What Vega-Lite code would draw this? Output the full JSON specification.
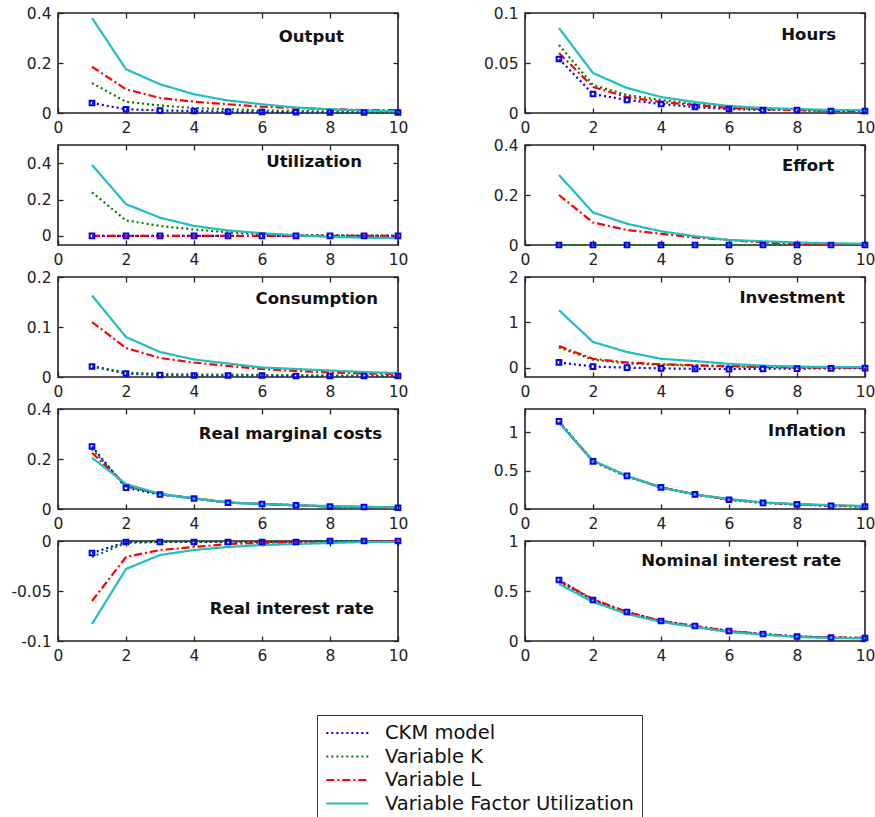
{
"$schema": "https://vega.github.io/schema/vega-lite/v6.json",
"padding": {"left": 10, "top": 5, "right": 5, "bottom": 0},
"background": "white",
"data": {"values": [
{"panel":"Output","model":"CKM model","t":1,"value":0.04},{"panel":"Output","model":"CKM model","t":2,"value":0.015},{"panel":"Output","model":"CKM model","t":3,"value":0.01},{"panel":"Output","model":"CKM model","t":4,"value":0.008},{"panel":"Output","model":"CKM model","t":5,"value":0.005},{"panel":"Output","model":"CKM model","t":6,"value":0.004},{"panel":"Output","model":"CKM model","t":7,"value":0.003},{"panel":"Output","model":"CKM model","t":8,"value":0.002},{"panel":"Output","model":"CKM model","t":9,"value":0.002},{"panel":"Output","model":"CKM model","t":10,"value":0.002},
{"panel":"Output","model":"Variable K","t":1,"value":0.12},{"panel":"Output","model":"Variable K","t":2,"value":0.045},{"panel":"Output","model":"Variable K","t":3,"value":0.03},{"panel":"Output","model":"Variable K","t":4,"value":0.02},{"panel":"Output","model":"Variable K","t":5,"value":0.015},{"panel":"Output","model":"Variable K","t":6,"value":0.01},{"panel":"Output","model":"Variable K","t":7,"value":0.008},{"panel":"Output","model":"Variable K","t":8,"value":0.006},{"panel":"Output","model":"Variable K","t":9,"value":0.005},{"panel":"Output","model":"Variable K","t":10,"value":0.004},
{"panel":"Output","model":"Variable L","t":1,"value":0.185},{"panel":"Output","model":"Variable L","t":2,"value":0.095},{"panel":"Output","model":"Variable L","t":3,"value":0.06},{"panel":"Output","model":"Variable L","t":4,"value":0.045},{"panel":"Output","model":"Variable L","t":5,"value":0.035},{"panel":"Output","model":"Variable L","t":6,"value":0.025},{"panel":"Output","model":"Variable L","t":7,"value":0.02},{"panel":"Output","model":"Variable L","t":8,"value":0.015},{"panel":"Output","model":"Variable L","t":9,"value":0.012},{"panel":"Output","model":"Variable L","t":10,"value":0.012},
{"panel":"Output","model":"Variable Factor Utilization","t":1,"value":0.38},{"panel":"Output","model":"Variable Factor Utilization","t":2,"value":0.175},{"panel":"Output","model":"Variable Factor Utilization","t":3,"value":0.115},{"panel":"Output","model":"Variable Factor Utilization","t":4,"value":0.075},{"panel":"Output","model":"Variable Factor Utilization","t":5,"value":0.05},{"panel":"Output","model":"Variable Factor Utilization","t":6,"value":0.035},{"panel":"Output","model":"Variable Factor Utilization","t":7,"value":0.022},{"panel":"Output","model":"Variable Factor Utilization","t":8,"value":0.015},{"panel":"Output","model":"Variable Factor Utilization","t":9,"value":0.01},{"panel":"Output","model":"Variable Factor Utilization","t":10,"value":0.007},

{"panel":"Hours","model":"CKM model","t":1,"value":0.054},{"panel":"Hours","model":"CKM model","t":2,"value":0.019},{"panel":"Hours","model":"CKM model","t":3,"value":0.013},{"panel":"Hours","model":"CKM model","t":4,"value":0.009},{"panel":"Hours","model":"CKM model","t":5,"value":0.006},{"panel":"Hours","model":"CKM model","t":6,"value":0.004},{"panel":"Hours","model":"CKM model","t":7,"value":0.003},{"panel":"Hours","model":"CKM model","t":8,"value":0.003},{"panel":"Hours","model":"CKM model","t":9,"value":0.002},{"panel":"Hours","model":"CKM model","t":10,"value":0.002},
{"panel":"Hours","model":"Variable K","t":1,"value":0.068},{"panel":"Hours","model":"Variable K","t":2,"value":0.028},{"panel":"Hours","model":"Variable K","t":3,"value":0.018},{"panel":"Hours","model":"Variable K","t":4,"value":0.013},{"panel":"Hours","model":"Variable K","t":5,"value":0.009},{"panel":"Hours","model":"Variable K","t":6,"value":0.006},{"panel":"Hours","model":"Variable K","t":7,"value":0.004},{"panel":"Hours","model":"Variable K","t":8,"value":0.003},{"panel":"Hours","model":"Variable K","t":9,"value":0.002},{"panel":"Hours","model":"Variable K","t":10,"value":0.002},
{"panel":"Hours","model":"Variable L","t":1,"value":0.06},{"panel":"Hours","model":"Variable L","t":2,"value":0.026},{"panel":"Hours","model":"Variable L","t":3,"value":0.016},{"panel":"Hours","model":"Variable L","t":4,"value":0.011},{"panel":"Hours","model":"Variable L","t":5,"value":0.008},{"panel":"Hours","model":"Variable L","t":6,"value":0.005},{"panel":"Hours","model":"Variable L","t":7,"value":0.004},{"panel":"Hours","model":"Variable L","t":8,"value":0.003},{"panel":"Hours","model":"Variable L","t":9,"value":0.002},{"panel":"Hours","model":"Variable L","t":10,"value":0.002},
{"panel":"Hours","model":"Variable Factor Utilization","t":1,"value":0.085},{"panel":"Hours","model":"Variable Factor Utilization","t":2,"value":0.04},{"panel":"Hours","model":"Variable Factor Utilization","t":3,"value":0.025},{"panel":"Hours","model":"Variable Factor Utilization","t":4,"value":0.016},{"panel":"Hours","model":"Variable Factor Utilization","t":5,"value":0.011},{"panel":"Hours","model":"Variable Factor Utilization","t":6,"value":0.007},{"panel":"Hours","model":"Variable Factor Utilization","t":7,"value":0.005},{"panel":"Hours","model":"Variable Factor Utilization","t":8,"value":0.004},{"panel":"Hours","model":"Variable Factor Utilization","t":9,"value":0.003},{"panel":"Hours","model":"Variable Factor Utilization","t":10,"value":0.003},

{"panel":"Utilization","model":"CKM model","t":1,"value":0},{"panel":"Utilization","model":"CKM model","t":2,"value":0},{"panel":"Utilization","model":"CKM model","t":3,"value":0},{"panel":"Utilization","model":"CKM model","t":4,"value":0},{"panel":"Utilization","model":"CKM model","t":5,"value":0},{"panel":"Utilization","model":"CKM model","t":6,"value":0},{"panel":"Utilization","model":"CKM model","t":7,"value":0},{"panel":"Utilization","model":"CKM model","t":8,"value":0},{"panel":"Utilization","model":"CKM model","t":9,"value":0},{"panel":"Utilization","model":"CKM model","t":10,"value":0},
{"panel":"Utilization","model":"Variable K","t":1,"value":0.24},{"panel":"Utilization","model":"Variable K","t":2,"value":0.085},{"panel":"Utilization","model":"Variable K","t":3,"value":0.055},{"panel":"Utilization","model":"Variable K","t":4,"value":0.035},{"panel":"Utilization","model":"Variable K","t":5,"value":0.02},{"panel":"Utilization","model":"Variable K","t":6,"value":0.01},{"panel":"Utilization","model":"Variable K","t":7,"value":0.005},{"panel":"Utilization","model":"Variable K","t":8,"value":0.003},{"panel":"Utilization","model":"Variable K","t":9,"value":0.002},{"panel":"Utilization","model":"Variable K","t":10,"value":0.001},
{"panel":"Utilization","model":"Variable L","t":1,"value":0},{"panel":"Utilization","model":"Variable L","t":2,"value":0},{"panel":"Utilization","model":"Variable L","t":3,"value":0},{"panel":"Utilization","model":"Variable L","t":4,"value":0},{"panel":"Utilization","model":"Variable L","t":5,"value":0},{"panel":"Utilization","model":"Variable L","t":6,"value":0},{"panel":"Utilization","model":"Variable L","t":7,"value":0},{"panel":"Utilization","model":"Variable L","t":8,"value":0},{"panel":"Utilization","model":"Variable L","t":9,"value":0},{"panel":"Utilization","model":"Variable L","t":10,"value":0},
{"panel":"Utilization","model":"Variable Factor Utilization","t":1,"value":0.39},{"panel":"Utilization","model":"Variable Factor Utilization","t":2,"value":0.175},{"panel":"Utilization","model":"Variable Factor Utilization","t":3,"value":0.1},{"panel":"Utilization","model":"Variable Factor Utilization","t":4,"value":0.055},{"panel":"Utilization","model":"Variable Factor Utilization","t":5,"value":0.03},{"panel":"Utilization","model":"Variable Factor Utilization","t":6,"value":0.015},{"panel":"Utilization","model":"Variable Factor Utilization","t":7,"value":0.003},{"panel":"Utilization","model":"Variable Factor Utilization","t":8,"value":-0.005},{"panel":"Utilization","model":"Variable Factor Utilization","t":9,"value":-0.01},{"panel":"Utilization","model":"Variable Factor Utilization","t":10,"value":-0.012},

{"panel":"Effort","model":"CKM model","t":1,"value":0},{"panel":"Effort","model":"CKM model","t":2,"value":0},{"panel":"Effort","model":"CKM model","t":3,"value":0},{"panel":"Effort","model":"CKM model","t":4,"value":0},{"panel":"Effort","model":"CKM model","t":5,"value":0},{"panel":"Effort","model":"CKM model","t":6,"value":0},{"panel":"Effort","model":"CKM model","t":7,"value":0},{"panel":"Effort","model":"CKM model","t":8,"value":0},{"panel":"Effort","model":"CKM model","t":9,"value":0},{"panel":"Effort","model":"CKM model","t":10,"value":0},
{"panel":"Effort","model":"Variable K","t":1,"value":0},{"panel":"Effort","model":"Variable K","t":2,"value":0},{"panel":"Effort","model":"Variable K","t":3,"value":0},{"panel":"Effort","model":"Variable K","t":4,"value":0},{"panel":"Effort","model":"Variable K","t":5,"value":0},{"panel":"Effort","model":"Variable K","t":6,"value":0},{"panel":"Effort","model":"Variable K","t":7,"value":0},{"panel":"Effort","model":"Variable K","t":8,"value":0},{"panel":"Effort","model":"Variable K","t":9,"value":0},{"panel":"Effort","model":"Variable K","t":10,"value":0},
{"panel":"Effort","model":"Variable L","t":1,"value":0.2},{"panel":"Effort","model":"Variable L","t":2,"value":0.09},{"panel":"Effort","model":"Variable L","t":3,"value":0.06},{"panel":"Effort","model":"Variable L","t":4,"value":0.045},{"panel":"Effort","model":"Variable L","t":5,"value":0.03},{"panel":"Effort","model":"Variable L","t":6,"value":0.02},{"panel":"Effort","model":"Variable L","t":7,"value":0.01},{"panel":"Effort","model":"Variable L","t":8,"value":0.005},{"panel":"Effort","model":"Variable L","t":9,"value":0.003},{"panel":"Effort","model":"Variable L","t":10,"value":0.002},
{"panel":"Effort","model":"Variable Factor Utilization","t":1,"value":0.28},{"panel":"Effort","model":"Variable Factor Utilization","t":2,"value":0.13},{"panel":"Effort","model":"Variable Factor Utilization","t":3,"value":0.085},{"panel":"Effort","model":"Variable Factor Utilization","t":4,"value":0.055},{"panel":"Effort","model":"Variable Factor Utilization","t":5,"value":0.035},{"panel":"Effort","model":"Variable Factor Utilization","t":6,"value":0.02},{"panel":"Effort","model":"Variable Factor Utilization","t":7,"value":0.015},{"panel":"Effort","model":"Variable Factor Utilization","t":8,"value":0.01},{"panel":"Effort","model":"Variable Factor Utilization","t":9,"value":0.007},{"panel":"Effort","model":"Variable Factor Utilization","t":10,"value":0.005},

{"panel":"Consumption","model":"CKM model","t":1,"value":0.021},{"panel":"Consumption","model":"CKM model","t":2,"value":0.007},{"panel":"Consumption","model":"CKM model","t":3,"value":0.004},{"panel":"Consumption","model":"CKM model","t":4,"value":0.003},{"panel":"Consumption","model":"CKM model","t":5,"value":0.003},{"panel":"Consumption","model":"CKM model","t":6,"value":0.003},{"panel":"Consumption","model":"CKM model","t":7,"value":0.002},{"panel":"Consumption","model":"CKM model","t":8,"value":0.002},{"panel":"Consumption","model":"CKM model","t":9,"value":0.002},{"panel":"Consumption","model":"CKM model","t":10,"value":0.002},
{"panel":"Consumption","model":"Variable K","t":1,"value":0.022},{"panel":"Consumption","model":"Variable K","t":2,"value":0.009},{"panel":"Consumption","model":"Variable K","t":3,"value":0.006},{"panel":"Consumption","model":"Variable K","t":4,"value":0.005},{"panel":"Consumption","model":"Variable K","t":5,"value":0.005},{"panel":"Consumption","model":"Variable K","t":6,"value":0.004},{"panel":"Consumption","model":"Variable K","t":7,"value":0.004},{"panel":"Consumption","model":"Variable K","t":8,"value":0.003},{"panel":"Consumption","model":"Variable K","t":9,"value":0.003},{"panel":"Consumption","model":"Variable K","t":10,"value":0.003},
{"panel":"Consumption","model":"Variable L","t":1,"value":0.11},{"panel":"Consumption","model":"Variable L","t":2,"value":0.058},{"panel":"Consumption","model":"Variable L","t":3,"value":0.038},{"panel":"Consumption","model":"Variable L","t":4,"value":0.029},{"panel":"Consumption","model":"Variable L","t":5,"value":0.022},{"panel":"Consumption","model":"Variable L","t":6,"value":0.016},{"panel":"Consumption","model":"Variable L","t":7,"value":0.012},{"panel":"Consumption","model":"Variable L","t":8,"value":0.009},{"panel":"Consumption","model":"Variable L","t":9,"value":0.007},{"panel":"Consumption","model":"Variable L","t":10,"value":0.006},
{"panel":"Consumption","model":"Variable Factor Utilization","t":1,"value":0.163},{"panel":"Consumption","model":"Variable Factor Utilization","t":2,"value":0.08},{"panel":"Consumption","model":"Variable Factor Utilization","t":3,"value":0.05},{"panel":"Consumption","model":"Variable Factor Utilization","t":4,"value":0.035},{"panel":"Consumption","model":"Variable Factor Utilization","t":5,"value":0.027},{"panel":"Consumption","model":"Variable Factor Utilization","t":6,"value":0.019},{"panel":"Consumption","model":"Variable Factor Utilization","t":7,"value":0.016},{"panel":"Consumption","model":"Variable Factor Utilization","t":8,"value":0.013},{"panel":"Consumption","model":"Variable Factor Utilization","t":9,"value":0.01},{"panel":"Consumption","model":"Variable Factor Utilization","t":10,"value":0.008},

{"panel":"Investment","model":"CKM model","t":1,"value":0.12},{"panel":"Investment","model":"CKM model","t":2,"value":0.03},{"panel":"Investment","model":"CKM model","t":3,"value":0.005},{"panel":"Investment","model":"CKM model","t":4,"value":-0.01},{"panel":"Investment","model":"CKM model","t":5,"value":-0.02},{"panel":"Investment","model":"CKM model","t":6,"value":-0.025},{"panel":"Investment","model":"CKM model","t":7,"value":-0.02},{"panel":"Investment","model":"CKM model","t":8,"value":-0.015},{"panel":"Investment","model":"CKM model","t":9,"value":-0.01},{"panel":"Investment","model":"CKM model","t":10,"value":-0.005},
{"panel":"Investment","model":"Variable K","t":1,"value":0.45},{"panel":"Investment","model":"Variable K","t":2,"value":0.18},{"panel":"Investment","model":"Variable K","t":3,"value":0.1},{"panel":"Investment","model":"Variable K","t":4,"value":0.07},{"panel":"Investment","model":"Variable K","t":5,"value":0.05},{"panel":"Investment","model":"Variable K","t":6,"value":0.03},{"panel":"Investment","model":"Variable K","t":7,"value":0.02},{"panel":"Investment","model":"Variable K","t":8,"value":0.01},{"panel":"Investment","model":"Variable K","t":9,"value":0.005},{"panel":"Investment","model":"Variable K","t":10,"value":0.003},
{"panel":"Investment","model":"Variable L","t":1,"value":0.48},{"panel":"Investment","model":"Variable L","t":2,"value":0.2},{"panel":"Investment","model":"Variable L","t":3,"value":0.12},{"panel":"Investment","model":"Variable L","t":4,"value":0.08},{"panel":"Investment","model":"Variable L","t":5,"value":0.06},{"panel":"Investment","model":"Variable L","t":6,"value":0.04},{"panel":"Investment","model":"Variable L","t":7,"value":0.02},{"panel":"Investment","model":"Variable L","t":8,"value":0.01},{"panel":"Investment","model":"Variable L","t":9,"value":0.005},{"panel":"Investment","model":"Variable L","t":10,"value":0.003},
{"panel":"Investment","model":"Variable Factor Utilization","t":1,"value":1.27},{"panel":"Investment","model":"Variable Factor Utilization","t":2,"value":0.57},{"panel":"Investment","model":"Variable Factor Utilization","t":3,"value":0.35},{"panel":"Investment","model":"Variable Factor Utilization","t":4,"value":0.2},{"panel":"Investment","model":"Variable Factor Utilization","t":5,"value":0.15},{"panel":"Investment","model":"Variable Factor Utilization","t":6,"value":0.09},{"panel":"Investment","model":"Variable Factor Utilization","t":7,"value":0.05},{"panel":"Investment","model":"Variable Factor Utilization","t":8,"value":0.03},{"panel":"Investment","model":"Variable Factor Utilization","t":9,"value":0.02},{"panel":"Investment","model":"Variable Factor Utilization","t":10,"value":0.02},

{"panel":"Real marginal costs","model":"CKM model","t":1,"value":0.25},{"panel":"Real marginal costs","model":"CKM model","t":2,"value":0.085},{"panel":"Real marginal costs","model":"CKM model","t":3,"value":0.058},{"panel":"Real marginal costs","model":"CKM model","t":4,"value":0.042},{"panel":"Real marginal costs","model":"CKM model","t":5,"value":0.025},{"panel":"Real marginal costs","model":"CKM model","t":6,"value":0.02},{"panel":"Real marginal costs","model":"CKM model","t":7,"value":0.015},{"panel":"Real marginal costs","model":"CKM model","t":8,"value":0.01},{"panel":"Real marginal costs","model":"CKM model","t":9,"value":0.008},{"panel":"Real marginal costs","model":"CKM model","t":10,"value":0.005},
{"panel":"Real marginal costs","model":"Variable K","t":1,"value":0.24},{"panel":"Real marginal costs","model":"Variable K","t":2,"value":0.09},{"panel":"Real marginal costs","model":"Variable K","t":3,"value":0.06},{"panel":"Real marginal costs","model":"Variable K","t":4,"value":0.043},{"panel":"Real marginal costs","model":"Variable K","t":5,"value":0.026},{"panel":"Real marginal costs","model":"Variable K","t":6,"value":0.02},{"panel":"Real marginal costs","model":"Variable K","t":7,"value":0.015},{"panel":"Real marginal costs","model":"Variable K","t":8,"value":0.01},{"panel":"Real marginal costs","model":"Variable K","t":9,"value":0.008},{"panel":"Real marginal costs","model":"Variable K","t":10,"value":0.005},
{"panel":"Real marginal costs","model":"Variable L","t":1,"value":0.225},{"panel":"Real marginal costs","model":"Variable L","t":2,"value":0.095},{"panel":"Real marginal costs","model":"Variable L","t":3,"value":0.06},{"panel":"Real marginal costs","model":"Variable L","t":4,"value":0.043},{"panel":"Real marginal costs","model":"Variable L","t":5,"value":0.026},{"panel":"Real marginal costs","model":"Variable L","t":6,"value":0.02},{"panel":"Real marginal costs","model":"Variable L","t":7,"value":0.015},{"panel":"Real marginal costs","model":"Variable L","t":8,"value":0.01},{"panel":"Real marginal costs","model":"Variable L","t":9,"value":0.008},{"panel":"Real marginal costs","model":"Variable L","t":10,"value":0.005},
{"panel":"Real marginal costs","model":"Variable Factor Utilization","t":1,"value":0.205},{"panel":"Real marginal costs","model":"Variable Factor Utilization","t":2,"value":0.1},{"panel":"Real marginal costs","model":"Variable Factor Utilization","t":3,"value":0.06},{"panel":"Real marginal costs","model":"Variable Factor Utilization","t":4,"value":0.043},{"panel":"Real marginal costs","model":"Variable Factor Utilization","t":5,"value":0.026},{"panel":"Real marginal costs","model":"Variable Factor Utilization","t":6,"value":0.02},{"panel":"Real marginal costs","model":"Variable Factor Utilization","t":7,"value":0.015},{"panel":"Real marginal costs","model":"Variable Factor Utilization","t":8,"value":0.012},{"panel":"Real marginal costs","model":"Variable Factor Utilization","t":9,"value":0.009},{"panel":"Real marginal costs","model":"Variable Factor Utilization","t":10,"value":0.006},

{"panel":"Inflation","model":"CKM model","t":1,"value":1.14},{"panel":"Inflation","model":"CKM model","t":2,"value":0.62},{"panel":"Inflation","model":"CKM model","t":3,"value":0.43},{"panel":"Inflation","model":"CKM model","t":4,"value":0.28},{"panel":"Inflation","model":"CKM model","t":5,"value":0.19},{"panel":"Inflation","model":"CKM model","t":6,"value":0.12},{"panel":"Inflation","model":"CKM model","t":7,"value":0.08},{"panel":"Inflation","model":"CKM model","t":8,"value":0.06},{"panel":"Inflation","model":"CKM model","t":9,"value":0.04},{"panel":"Inflation","model":"CKM model","t":10,"value":0.03},
{"panel":"Inflation","model":"Variable K","t":1,"value":1.13},{"panel":"Inflation","model":"Variable K","t":2,"value":0.62},{"panel":"Inflation","model":"Variable K","t":3,"value":0.42},{"panel":"Inflation","model":"Variable K","t":4,"value":0.28},{"panel":"Inflation","model":"Variable K","t":5,"value":0.19},{"panel":"Inflation","model":"Variable K","t":6,"value":0.12},{"panel":"Inflation","model":"Variable K","t":7,"value":0.08},{"panel":"Inflation","model":"Variable K","t":8,"value":0.06},{"panel":"Inflation","model":"Variable K","t":9,"value":0.045},{"panel":"Inflation","model":"Variable K","t":10,"value":0.035},
{"panel":"Inflation","model":"Variable L","t":1,"value":1.13},{"panel":"Inflation","model":"Variable L","t":2,"value":0.62},{"panel":"Inflation","model":"Variable L","t":3,"value":0.43},{"panel":"Inflation","model":"Variable L","t":4,"value":0.28},{"panel":"Inflation","model":"Variable L","t":5,"value":0.19},{"panel":"Inflation","model":"Variable L","t":6,"value":0.125},{"panel":"Inflation","model":"Variable L","t":7,"value":0.085},{"panel":"Inflation","model":"Variable L","t":8,"value":0.06},{"panel":"Inflation","model":"Variable L","t":9,"value":0.045},{"panel":"Inflation","model":"Variable L","t":10,"value":0.035},
{"panel":"Inflation","model":"Variable Factor Utilization","t":1,"value":1.12},{"panel":"Inflation","model":"Variable Factor Utilization","t":2,"value":0.63},{"panel":"Inflation","model":"Variable Factor Utilization","t":3,"value":0.43},{"panel":"Inflation","model":"Variable Factor Utilization","t":4,"value":0.28},{"panel":"Inflation","model":"Variable Factor Utilization","t":5,"value":0.19},{"panel":"Inflation","model":"Variable Factor Utilization","t":6,"value":0.13},{"panel":"Inflation","model":"Variable Factor Utilization","t":7,"value":0.085},{"panel":"Inflation","model":"Variable Factor Utilization","t":8,"value":0.065},{"panel":"Inflation","model":"Variable Factor Utilization","t":9,"value":0.05},{"panel":"Inflation","model":"Variable Factor Utilization","t":10,"value":0.04},

{"panel":"Real interest rate","model":"CKM model","t":1,"value":-0.012},{"panel":"Real interest rate","model":"CKM model","t":2,"value":-0.001},{"panel":"Real interest rate","model":"CKM model","t":3,"value":-0.001},{"panel":"Real interest rate","model":"CKM model","t":4,"value":-0.001},{"panel":"Real interest rate","model":"CKM model","t":5,"value":-0.001},{"panel":"Real interest rate","model":"CKM model","t":6,"value":-0.001},{"panel":"Real interest rate","model":"CKM model","t":7,"value":-0.001},{"panel":"Real interest rate","model":"CKM model","t":8,"value":0},{"panel":"Real interest rate","model":"CKM model","t":9,"value":0},{"panel":"Real interest rate","model":"CKM model","t":10,"value":0},
{"panel":"Real interest rate","model":"Variable K","t":1,"value":-0.016},{"panel":"Real interest rate","model":"Variable K","t":2,"value":-0.002},{"panel":"Real interest rate","model":"Variable K","t":3,"value":-0.001},{"panel":"Real interest rate","model":"Variable K","t":4,"value":-0.001},{"panel":"Real interest rate","model":"Variable K","t":5,"value":-0.001},{"panel":"Real interest rate","model":"Variable K","t":6,"value":-0.001},{"panel":"Real interest rate","model":"Variable K","t":7,"value":-0.001},{"panel":"Real interest rate","model":"Variable K","t":8,"value":0},{"panel":"Real interest rate","model":"Variable K","t":9,"value":0},{"panel":"Real interest rate","model":"Variable K","t":10,"value":0},
{"panel":"Real interest rate","model":"Variable L","t":1,"value":-0.06},{"panel":"Real interest rate","model":"Variable L","t":2,"value":-0.016},{"panel":"Real interest rate","model":"Variable L","t":3,"value":-0.009},{"panel":"Real interest rate","model":"Variable L","t":4,"value":-0.006},{"panel":"Real interest rate","model":"Variable L","t":5,"value":-0.003},{"panel":"Real interest rate","model":"Variable L","t":6,"value":-0.002},{"panel":"Real interest rate","model":"Variable L","t":7,"value":-0.001},{"panel":"Real interest rate","model":"Variable L","t":8,"value":-0.001},{"panel":"Real interest rate","model":"Variable L","t":9,"value":-0.001},{"panel":"Real interest rate","model":"Variable L","t":10,"value":0},
{"panel":"Real interest rate","model":"Variable Factor Utilization","t":1,"value":-0.083},{"panel":"Real interest rate","model":"Variable Factor Utilization","t":2,"value":-0.028},{"panel":"Real interest rate","model":"Variable Factor Utilization","t":3,"value":-0.014},{"panel":"Real interest rate","model":"Variable Factor Utilization","t":4,"value":-0.009},{"panel":"Real interest rate","model":"Variable Factor Utilization","t":5,"value":-0.006},{"panel":"Real interest rate","model":"Variable Factor Utilization","t":6,"value":-0.004},{"panel":"Real interest rate","model":"Variable Factor Utilization","t":7,"value":-0.003},{"panel":"Real interest rate","model":"Variable Factor Utilization","t":8,"value":-0.002},{"panel":"Real interest rate","model":"Variable Factor Utilization","t":9,"value":-0.001},{"panel":"Real interest rate","model":"Variable Factor Utilization","t":10,"value":-0.001},

{"panel":"Nominal interest rate","model":"CKM model","t":1,"value":0.61},{"panel":"Nominal interest rate","model":"CKM model","t":2,"value":0.41},{"panel":"Nominal interest rate","model":"CKM model","t":3,"value":0.29},{"panel":"Nominal interest rate","model":"CKM model","t":4,"value":0.2},{"panel":"Nominal interest rate","model":"CKM model","t":5,"value":0.15},{"panel":"Nominal interest rate","model":"CKM model","t":6,"value":0.1},{"panel":"Nominal interest rate","model":"CKM model","t":7,"value":0.07},{"panel":"Nominal interest rate","model":"CKM model","t":8,"value":0.045},{"panel":"Nominal interest rate","model":"CKM model","t":9,"value":0.035},{"panel":"Nominal interest rate","model":"CKM model","t":10,"value":0.03},
{"panel":"Nominal interest rate","model":"Variable K","t":1,"value":0.59},{"panel":"Nominal interest rate","model":"Variable K","t":2,"value":0.41},{"panel":"Nominal interest rate","model":"Variable K","t":3,"value":0.28},{"panel":"Nominal interest rate","model":"Variable K","t":4,"value":0.19},{"panel":"Nominal interest rate","model":"Variable K","t":5,"value":0.14},{"panel":"Nominal interest rate","model":"Variable K","t":6,"value":0.09},{"panel":"Nominal interest rate","model":"Variable K","t":7,"value":0.065},{"panel":"Nominal interest rate","model":"Variable K","t":8,"value":0.045},{"panel":"Nominal interest rate","model":"Variable K","t":9,"value":0.035},{"panel":"Nominal interest rate","model":"Variable K","t":10,"value":0.03},
{"panel":"Nominal interest rate","model":"Variable L","t":1,"value":0.6},{"panel":"Nominal interest rate","model":"Variable L","t":2,"value":0.42},{"panel":"Nominal interest rate","model":"Variable L","t":3,"value":0.29},{"panel":"Nominal interest rate","model":"Variable L","t":4,"value":0.2},{"panel":"Nominal interest rate","model":"Variable L","t":5,"value":0.15},{"panel":"Nominal interest rate","model":"Variable L","t":6,"value":0.1},{"panel":"Nominal interest rate","model":"Variable L","t":7,"value":0.07},{"panel":"Nominal interest rate","model":"Variable L","t":8,"value":0.045},{"panel":"Nominal interest rate","model":"Variable L","t":9,"value":0.035},{"panel":"Nominal interest rate","model":"Variable L","t":10,"value":0.03},
{"panel":"Nominal interest rate","model":"Variable Factor Utilization","t":1,"value":0.57},{"panel":"Nominal interest rate","model":"Variable Factor Utilization","t":2,"value":0.39},{"panel":"Nominal interest rate","model":"Variable Factor Utilization","t":3,"value":0.27},{"panel":"Nominal interest rate","model":"Variable Factor Utilization","t":4,"value":0.19},{"panel":"Nominal interest rate","model":"Variable Factor Utilization","t":5,"value":0.14},{"panel":"Nominal interest rate","model":"Variable Factor Utilization","t":6,"value":0.09},{"panel":"Nominal interest rate","model":"Variable Factor Utilization","t":7,"value":0.065},{"panel":"Nominal interest rate","model":"Variable Factor Utilization","t":8,"value":0.04},{"panel":"Nominal interest rate","model":"Variable Factor Utilization","t":9,"value":0.03},{"panel":"Nominal interest rate","model":"Variable Factor Utilization","t":10,"value":0.025}
]},
"columns": 2,
"spacing": {"row": 0, "column": 73},
"concat": [
{"width":340,"height":100,"transform":[{"filter":"datum.panel === 'Output'"}],"layer":[
 {"mark":{"type":"line","strokeWidth":2.2},"encoding":{"x":{"field":"t","type":"quantitative","scale":{"domain":[0,10]},"axis":{"orient":"bottom","values":[0,2,4,6,8,10]},"title":null},"y":{"field":"value","type":"quantitative","scale":{"domain":[0,0.4]},"axis":{"orient":"left","values":[0,0.2,0.4],"labelExpr":"''+datum.value"},"title":null},"color":{"field":"model","type":"nominal","title":null,"scale":{"domain":["CKM model","Variable K","Variable L","Variable Factor Utilization"],"range":["#0000ff","#008000","#ff0000","#1fbfbf"]}},"strokeDash":{"field":"model","type":"nominal","title":null,"scale":{"domain":["CKM model","Variable K","Variable L","Variable Factor Utilization"],"range":[[2,3],[2,3],[8,3,2,3],[1,0]]}}}},
 {"transform":[{"filter":"datum.model === 'CKM model'"}],"mark":{"type":"point","shape":"square","filled":false,"size":22,"strokeWidth":2,"color":"#0000ff","opacity":1},"encoding":{"x":{"field":"t","type":"quantitative","axis":null},"y":{"field":"value","type":"quantitative","axis":null}}},
 {"data":{"values":[{}]},"mark":{"type":"text","align":"right","baseline":"middle","fontWeight":"bold","fontSize":16.5,"font":"DejaVu Sans","color":"#111"},"encoding":{"x":{"datum":8.41,"type":"quantitative","axis":{"orient":"top","values":[0,2,4,6,8,10],"labels":false},"title":null},"y":{"datum":0.304,"type":"quantitative","axis":{"orient":"right","values":[0,0.2,0.4],"labels":false},"title":null},"text":{"value":"Output"}}}
],"resolve":{"axis":{"x":"independent","y":"independent"}}},
{"width":340,"height":100,"transform":[{"filter":"datum.panel === 'Hours'"}],"layer":[
 {"mark":{"type":"line","strokeWidth":2.2},"encoding":{"x":{"field":"t","type":"quantitative","scale":{"domain":[0,10]},"axis":{"orient":"bottom","values":[0,2,4,6,8,10]},"title":null},"y":{"field":"value","type":"quantitative","scale":{"domain":[0,0.1]},"axis":{"orient":"left","values":[0,0.05,0.1],"labelExpr":"''+datum.value"},"title":null},"color":{"field":"model","type":"nominal","title":null},"strokeDash":{"field":"model","type":"nominal","title":null}}},
 {"transform":[{"filter":"datum.model === 'CKM model'"}],"mark":{"type":"point","shape":"square","filled":false,"size":22,"strokeWidth":2,"color":"#0000ff","opacity":1},"encoding":{"x":{"field":"t","type":"quantitative","axis":null},"y":{"field":"value","type":"quantitative","axis":null}}},
 {"data":{"values":[{}]},"mark":{"type":"text","align":"right","baseline":"middle","fontWeight":"bold","fontSize":16.5,"font":"DejaVu Sans","color":"#111"},"encoding":{"x":{"datum":9.15,"type":"quantitative","axis":{"orient":"top","values":[0,2,4,6,8,10],"labels":false},"title":null},"y":{"datum":0.078,"type":"quantitative","axis":{"orient":"right","values":[0,0.05,0.1],"labels":false},"title":null},"text":{"value":"Hours"}}}
],"resolve":{"axis":{"x":"independent","y":"independent"}}},
{"width":340,"height":100,"transform":[{"filter":"datum.panel === 'Utilization'"}],"layer":[
 {"mark":{"type":"line","strokeWidth":2.2},"encoding":{"x":{"field":"t","type":"quantitative","scale":{"domain":[0,10]},"axis":{"orient":"bottom","values":[0,2,4,6,8,10]},"title":null},"y":{"field":"value","type":"quantitative","scale":{"domain":[-0.05,0.5]},"axis":{"orient":"left","values":[0,0.2,0.4],"labelExpr":"''+datum.value"},"title":null},"color":{"field":"model","type":"nominal","title":null},"strokeDash":{"field":"model","type":"nominal","title":null}}},
 {"transform":[{"filter":"datum.model === 'CKM model'"}],"mark":{"type":"point","shape":"square","filled":false,"size":22,"strokeWidth":2,"color":"#0000ff","opacity":1},"encoding":{"x":{"field":"t","type":"quantitative","axis":null},"y":{"field":"value","type":"quantitative","axis":null}}},
 {"data":{"values":[{}]},"mark":{"type":"text","align":"right","baseline":"middle","fontWeight":"bold","fontSize":16.5,"font":"DejaVu Sans","color":"#111"},"encoding":{"x":{"datum":8.94,"type":"quantitative","axis":{"orient":"top","values":[0,2,4,6,8,10],"labels":false},"title":null},"y":{"datum":0.405,"type":"quantitative","axis":{"orient":"right","values":[0,0.2,0.4],"labels":false},"title":null},"text":{"value":"Utilization"}}}
],"resolve":{"axis":{"x":"independent","y":"independent"}}},
{"width":340,"height":100,"transform":[{"filter":"datum.panel === 'Effort'"}],"layer":[
 {"mark":{"type":"line","strokeWidth":2.2},"encoding":{"x":{"field":"t","type":"quantitative","scale":{"domain":[0,10]},"axis":{"orient":"bottom","values":[0,2,4,6,8,10]},"title":null},"y":{"field":"value","type":"quantitative","scale":{"domain":[0,0.4]},"axis":{"orient":"left","values":[0,0.2,0.4],"labelExpr":"''+datum.value"},"title":null},"color":{"field":"model","type":"nominal","title":null},"strokeDash":{"field":"model","type":"nominal","title":null}}},
 {"transform":[{"filter":"datum.model === 'CKM model'"}],"mark":{"type":"point","shape":"square","filled":false,"size":22,"strokeWidth":2,"color":"#0000ff","opacity":1},"encoding":{"x":{"field":"t","type":"quantitative","axis":null},"y":{"field":"value","type":"quantitative","axis":null}}},
 {"data":{"values":[{}]},"mark":{"type":"text","align":"right","baseline":"middle","fontWeight":"bold","fontSize":16.5,"font":"DejaVu Sans","color":"#111"},"encoding":{"x":{"datum":9.09,"type":"quantitative","axis":{"orient":"top","values":[0,2,4,6,8,10],"labels":false},"title":null},"y":{"datum":0.315,"type":"quantitative","axis":{"orient":"right","values":[0,0.2,0.4],"labels":false},"title":null},"text":{"value":"Effort"}}}
],"resolve":{"axis":{"x":"independent","y":"independent"}}},
{"width":340,"height":100,"transform":[{"filter":"datum.panel === 'Consumption'"}],"layer":[
 {"mark":{"type":"line","strokeWidth":2.2},"encoding":{"x":{"field":"t","type":"quantitative","scale":{"domain":[0,10]},"axis":{"orient":"bottom","values":[0,2,4,6,8,10]},"title":null},"y":{"field":"value","type":"quantitative","scale":{"domain":[0,0.2]},"axis":{"orient":"left","values":[0,0.1,0.2],"labelExpr":"''+datum.value"},"title":null},"color":{"field":"model","type":"nominal","title":null},"strokeDash":{"field":"model","type":"nominal","title":null}}},
 {"transform":[{"filter":"datum.model === 'CKM model'"}],"mark":{"type":"point","shape":"square","filled":false,"size":22,"strokeWidth":2,"color":"#0000ff","opacity":1},"encoding":{"x":{"field":"t","type":"quantitative","axis":null},"y":{"field":"value","type":"quantitative","axis":null}}},
 {"data":{"values":[{}]},"mark":{"type":"text","align":"right","baseline":"middle","fontWeight":"bold","fontSize":16.5,"font":"DejaVu Sans","color":"#111"},"encoding":{"x":{"datum":9.41,"type":"quantitative","axis":{"orient":"top","values":[0,2,4,6,8,10],"labels":false},"title":null},"y":{"datum":0.157,"type":"quantitative","axis":{"orient":"right","values":[0,0.1,0.2],"labels":false},"title":null},"text":{"value":"Consumption"}}}
],"resolve":{"axis":{"x":"independent","y":"independent"}}},
{"width":340,"height":100,"transform":[{"filter":"datum.panel === 'Investment'"}],"layer":[
 {"mark":{"type":"line","strokeWidth":2.2},"encoding":{"x":{"field":"t","type":"quantitative","scale":{"domain":[0,10]},"axis":{"orient":"bottom","values":[0,2,4,6,8,10]},"title":null},"y":{"field":"value","type":"quantitative","scale":{"domain":[-0.1,2]},"axis":{"orient":"left","values":[0,1,2],"labelExpr":"''+datum.value"},"title":null},"color":{"field":"model","type":"nominal","title":null},"strokeDash":{"field":"model","type":"nominal","title":null}}},
 {"transform":[{"filter":"datum.model === 'CKM model'"}],"mark":{"type":"point","shape":"square","filled":false,"size":22,"strokeWidth":2,"color":"#0000ff","opacity":1},"encoding":{"x":{"field":"t","type":"quantitative","axis":null},"y":{"field":"value","type":"quantitative","axis":null}}},
 {"data":{"values":[{}]},"mark":{"type":"text","align":"right","baseline":"middle","fontWeight":"bold","fontSize":16.5,"font":"DejaVu Sans","color":"#111"},"encoding":{"x":{"datum":9.41,"type":"quantitative","axis":{"orient":"top","values":[0,2,4,6,8,10],"labels":false},"title":null},"y":{"datum":1.53,"type":"quantitative","axis":{"orient":"right","values":[0,1,2],"labels":false},"title":null},"text":{"value":"Investment"}}}
],"resolve":{"axis":{"x":"independent","y":"independent"}}},
{"width":340,"height":100,"transform":[{"filter":"datum.panel === 'Real marginal costs'"}],"layer":[
 {"mark":{"type":"line","strokeWidth":2.2},"encoding":{"x":{"field":"t","type":"quantitative","scale":{"domain":[0,10]},"axis":{"orient":"bottom","values":[0,2,4,6,8,10]},"title":null},"y":{"field":"value","type":"quantitative","scale":{"domain":[0,0.4]},"axis":{"orient":"left","values":[0,0.2,0.4],"labelExpr":"''+datum.value"},"title":null},"color":{"field":"model","type":"nominal","title":null},"strokeDash":{"field":"model","type":"nominal","title":null}}},
 {"transform":[{"filter":"datum.model === 'CKM model'"}],"mark":{"type":"point","shape":"square","filled":false,"size":22,"strokeWidth":2,"color":"#0000ff","opacity":1},"encoding":{"x":{"field":"t","type":"quantitative","axis":null},"y":{"field":"value","type":"quantitative","axis":null}}},
 {"data":{"values":[{}]},"mark":{"type":"text","align":"right","baseline":"middle","fontWeight":"bold","fontSize":16.5,"font":"DejaVu Sans","color":"#111"},"encoding":{"x":{"datum":9.53,"type":"quantitative","axis":{"orient":"top","values":[0,2,4,6,8,10],"labels":false},"title":null},"y":{"datum":0.3,"type":"quantitative","axis":{"orient":"right","values":[0,0.2,0.4],"labels":false},"title":null},"text":{"value":"Real marginal costs"}}}
],"resolve":{"axis":{"x":"independent","y":"independent"}}},
{"width":340,"height":100,"transform":[{"filter":"datum.panel === 'Inflation'"}],"layer":[
 {"mark":{"type":"line","strokeWidth":2.2},"encoding":{"x":{"field":"t","type":"quantitative","scale":{"domain":[0,10]},"axis":{"orient":"bottom","values":[0,2,4,6,8,10]},"title":null},"y":{"field":"value","type":"quantitative","scale":{"domain":[0,1.25]},"axis":{"orient":"left","values":[0,0.5,1],"labelExpr":"''+datum.value"},"title":null},"color":{"field":"model","type":"nominal","title":null},"strokeDash":{"field":"model","type":"nominal","title":null}}},
 {"transform":[{"filter":"datum.model === 'CKM model'"}],"mark":{"type":"point","shape":"square","filled":false,"size":22,"strokeWidth":2,"color":"#0000ff","opacity":1},"encoding":{"x":{"field":"t","type":"quantitative","axis":null},"y":{"field":"value","type":"quantitative","axis":null}}},
 {"data":{"values":[{}]},"mark":{"type":"text","align":"right","baseline":"middle","fontWeight":"bold","fontSize":16.5,"font":"DejaVu Sans","color":"#111"},"encoding":{"x":{"datum":9.44,"type":"quantitative","axis":{"orient":"top","values":[0,2,4,6,8,10],"labels":false},"title":null},"y":{"datum":1.01,"type":"quantitative","axis":{"orient":"right","values":[0,0.5,1],"labels":false},"title":null},"text":{"value":"Inflation"}}}
],"resolve":{"axis":{"x":"independent","y":"independent"}}},
{"width":340,"height":100,"transform":[{"filter":"datum.panel === 'Real interest rate'"}],"layer":[
 {"mark":{"type":"line","strokeWidth":2.2},"encoding":{"x":{"field":"t","type":"quantitative","scale":{"domain":[0,10]},"axis":{"orient":"bottom","values":[0,2,4,6,8,10]},"title":null},"y":{"field":"value","type":"quantitative","scale":{"domain":[-0.1,0]},"axis":{"orient":"left","values":[-0.1,-0.05,0],"labelExpr":"''+datum.value"},"title":null},"color":{"field":"model","type":"nominal","title":null},"strokeDash":{"field":"model","type":"nominal","title":null}}},
 {"transform":[{"filter":"datum.model === 'CKM model'"}],"mark":{"type":"point","shape":"square","filled":false,"size":22,"strokeWidth":2,"color":"#0000ff","opacity":1},"encoding":{"x":{"field":"t","type":"quantitative","axis":null},"y":{"field":"value","type":"quantitative","axis":null}}},
 {"data":{"values":[{}]},"mark":{"type":"text","align":"right","baseline":"middle","fontWeight":"bold","fontSize":16.5,"font":"DejaVu Sans","color":"#111"},"encoding":{"x":{"datum":9.29,"type":"quantitative","axis":{"orient":"top","values":[0,2,4,6,8,10],"labels":false},"title":null},"y":{"datum":-0.068,"type":"quantitative","axis":{"orient":"right","values":[-0.1,-0.05,0],"labels":false},"title":null},"text":{"value":"Real interest rate"}}}
],"resolve":{"axis":{"x":"independent","y":"independent"}}},
{"width":340,"height":100,"transform":[{"filter":"datum.panel === 'Nominal interest rate'"}],"layer":[
 {"mark":{"type":"line","strokeWidth":2.2},"encoding":{"x":{"field":"t","type":"quantitative","scale":{"domain":[0,10]},"axis":{"orient":"bottom","values":[0,2,4,6,8,10]},"title":null},"y":{"field":"value","type":"quantitative","scale":{"domain":[0,1]},"axis":{"orient":"left","values":[0,0.5,1],"labelExpr":"''+datum.value"},"title":null},"color":{"field":"model","type":"nominal","title":null},"strokeDash":{"field":"model","type":"nominal","title":null}}},
 {"transform":[{"filter":"datum.model === 'CKM model'"}],"mark":{"type":"point","shape":"square","filled":false,"size":22,"strokeWidth":2,"color":"#0000ff","opacity":1},"encoding":{"x":{"field":"t","type":"quantitative","axis":null},"y":{"field":"value","type":"quantitative","axis":null}}},
 {"data":{"values":[{}]},"mark":{"type":"text","align":"right","baseline":"middle","fontWeight":"bold","fontSize":16.5,"font":"DejaVu Sans","color":"#111"},"encoding":{"x":{"datum":9.3,"type":"quantitative","axis":{"orient":"top","values":[0,2,4,6,8,10],"labels":false},"title":null},"y":{"datum":0.8,"type":"quantitative","axis":{"orient":"right","values":[0,0.5,1],"labels":false},"title":null},"text":{"value":"Nominal interest rate"}}}
],"resolve":{"axis":{"x":"independent","y":"independent"}}}
],
"config": {
 "view": {"stroke": "#222", "strokeWidth": 1.6},
 "axis": {"labelFont": "DejaVu Sans", "labelFontSize": 15.5, "labelColor": "#222", "labelFlush": false, "tickColor": "#222", "tickSize": -5, "tickWidth": 1.3, "labelPadding": 12, "domain": false, "grid": false},
 "legend": {"orient": "none", "legendX": 259, "legendY": 702, "direction": "vertical", "symbolType": "M-1,0H3.85", "symbolSize": 300, "symbolStrokeWidth": 2.2, "labelFont": "DejaVu Sans", "labelFontSize": 19.5, "labelColor": "#111", "labelLimit": 400, "labelOffset": 40, "strokeColor": "#333", "fillColor": "white", "padding": 8, "rowPadding": 3.5}
}
}
